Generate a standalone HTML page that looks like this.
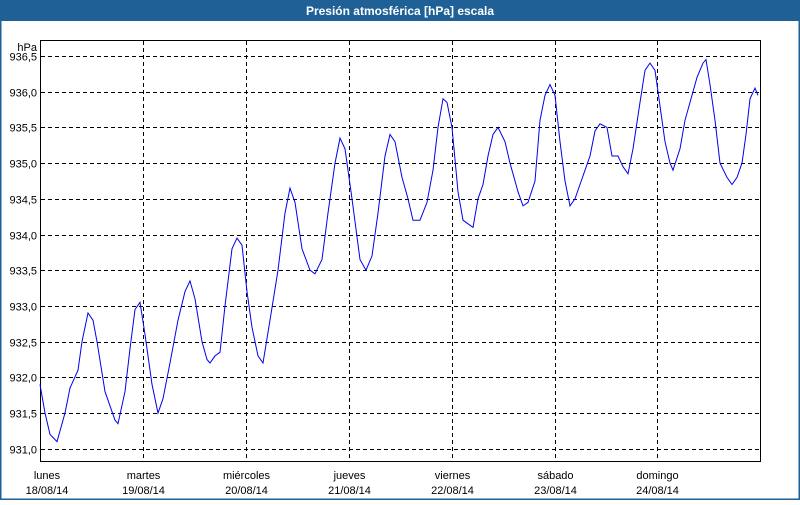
<!DOCTYPE html>
<html><head><meta charset="utf-8"><style>
body{margin:0;width:800px;height:500px;overflow:hidden;background:#fff;font-family:"Liberation Sans",sans-serif}
</style></head><body>
<svg id="s" width="800" height="500" xmlns="http://www.w3.org/2000/svg" font-family="Liberation Sans, sans-serif" font-size="11">
<rect x="0" y="0" width="800" height="500" fill="#fff"/>
<rect x="0" y="0" width="800" height="21" fill="#1f6196"/>
<rect x="0" y="0" width="1.5" height="500" fill="#1f6196"/>
<rect x="798.5" y="0" width="1.5" height="500" fill="#1f6196"/>
<rect x="0" y="498.5" width="800" height="1.5" fill="#1f6196"/>
<text x="400" y="15" fill="#fff" font-weight="bold" font-size="12" text-anchor="middle">Presión atmosférica [hPa] escala</text>
<g id="grid" stroke="#000" stroke-dasharray="4,3" stroke-width="1"></g>
<rect x="40.5" y="40.5" width="720" height="421" fill="none" stroke="#000"/>
<text x="37" y="51" text-anchor="end">hPa</text>
<g id="yl" text-anchor="end"></g>
<g id="xl" text-anchor="middle"></g>
<polyline id="p" fill="none" stroke="#0000ee" stroke-width="1"/>
</svg>
<script>
var ns="http://www.w3.org/2000/svg";
function Y(v){return 56+(936.5-v)*71.4;}
var g=document.getElementById('grid'),yl=document.getElementById('yl'),xl=document.getElementById('xl');
for(var i=0;i<=11;i++){var v=936.5-i*0.5,y=Math.round(Y(v))+0.5;
var l=document.createElementNS(ns,'line');l.setAttribute('x1',41);l.setAttribute('x2',760);l.setAttribute('y1',y);l.setAttribute('y2',y);g.appendChild(l);
var t=document.createElementNS(ns,'text');t.setAttribute('x',37);t.setAttribute('y',y+4);t.textContent=v.toFixed(1).replace('.',',');yl.appendChild(t);}
var days=[["lunes","18/08/14"],["martes","19/08/14"],["miércoles","20/08/14"],["jueves","21/08/14"],["viernes","22/08/14"],["sábado","23/08/14"],["domingo","24/08/14"]];
for(var d=0;d<7;d++){var x=Math.round(40+d*102.9)+0.5;
if(d>0){var l=document.createElementNS(ns,'line');l.setAttribute('x1',x);l.setAttribute('x2',x);l.setAttribute('y1',41);l.setAttribute('y2',461);g.appendChild(l);}
var cx=d==0?47:x;
var t=document.createElementNS(ns,'text');t.setAttribute('x',cx);t.setAttribute('y',479);t.textContent=days[d][0];xl.appendChild(t);
t=document.createElementNS(ns,'text');t.setAttribute('x',cx);t.setAttribute('y',494);t.textContent=days[d][1];xl.appendChild(t);}
var D=[40,931.9,45,931.5,50,931.2,57,931.1,65,931.5,70,931.85,78,932.1,82,932.5,88,932.9,93,932.8,97,932.5,105,931.8,110,931.6,115,931.4,118,931.35,125,931.8,130,932.4,135,932.95,140,933.05,145,932.6,152,931.9,158,931.5,163,931.7,170,932.2,178,932.8,185,933.2,190,933.35,195,933.1,202,932.5,207,932.25,210,932.2,215,932.3,220,932.35,225,933.0,232,933.8,237,933.95,242,933.85,247,933.2,252,932.7,258,932.3,263,932.2,270,932.8,278,933.5,285,934.3,290,934.65,295,934.45,302,933.8,310,933.5,315,933.45,322,933.65,328,934.3,335,935.0,340,935.35,345,935.2,352,934.5,360,933.65,366,933.5,372,933.7,378,934.3,385,935.1,390,935.4,395,935.3,402,934.8,408,934.5,413,934.2,420,934.2,427,934.45,433,934.9,438,935.5,443,935.9,447,935.85,452,935.5,458,934.6,463,934.2,468,934.15,473,934.1,478,934.5,483,934.7,488,935.1,493,935.4,498,935.5,505,935.3,510,935.0,518,934.6,523,934.4,528,934.45,535,934.75,540,935.6,545,935.95,550,936.1,555,935.95,560,935.3,565,934.75,570,934.4,575,934.5,580,934.7,585,934.9,590,935.1,595,935.45,600,935.55,607,935.5,612,935.1,618,935.1,623,934.95,628,934.85,633,935.2,640,935.85,645,936.3,650,936.4,655,936.3,660,935.8,665,935.3,670,935.0,673,934.9,680,935.2,685,935.6,690,935.85,697,936.2,703,936.4,706,936.45,710,936.1,715,935.6,720,935.0,727,934.8,732,934.7,737,934.8,742,935.0,746,935.4,750,935.9,755,936.05,758,935.95];
var pts=[];for(var i=0;i<D.length;i+=2)pts.push(D[i]+','+Y(D[i+1]).toFixed(1));
document.getElementById('p').setAttribute('points',pts.join(' '));
</script>
</body></html>
